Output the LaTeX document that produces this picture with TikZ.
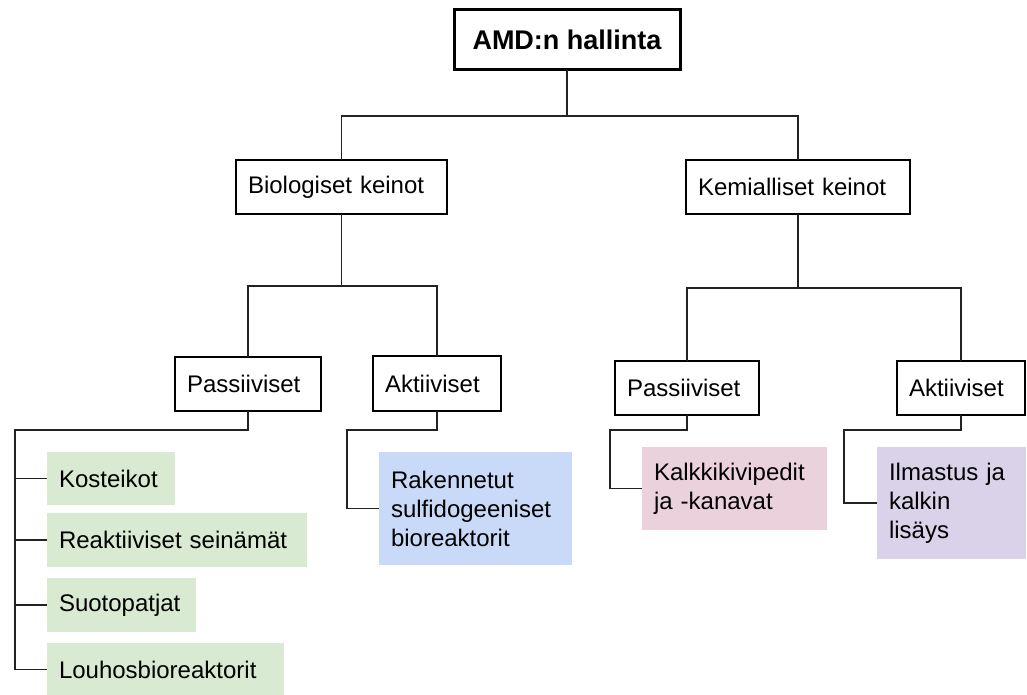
\documentclass[tikz,border=0pt]{standalone}
\usepackage{fontspec}
\setmainfont{Liberation Sans}
\definecolor{lgreen}{HTML}{D9EAD3}
\definecolor{lblue}{HTML}{C9DAF8}
\definecolor{lpink}{HTML}{EAD1DC}
\definecolor{lpurple}{HTML}{D9D2E9}
\definecolor{linec}{HTML}{222222}
\begin{document}
\begin{tikzpicture}[x=1pt,y=-1pt,
  every node/.style={font=\fontsize{24}{29}\selectfont},
  box/.style={draw=black, line width=1.3pt, fill=white, align=left, inner xsep=12pt, inner ysep=0pt, outer sep=0pt},
  leaf/.style={box, draw=none},
  conn/.style={draw=linec, line width=1.3pt},
]
\useasboundingbox (0,0) rectangle (1027,695);

% nodes
\node[box, line width=3pt, minimum width=226pt, minimum height=60pt, align=center,
      font=\fontsize{27}{32}\selectfont\bfseries] (root) at (567,40) {AMD:n hallinta};
\node[box, text width=187pt, minimum height=54pt] (bio) at (341.5,187) {Biologiset keinot};
\node[box, text width=200pt, minimum height=54pt] (kem) at (798,187) {Kemialliset keinot};
\node[box, text width=122pt, minimum height=54pt] (passL) at (248,384) {Passiiviset};
\node[box, text width=104pt, minimum height=55pt] (aktL) at (437,383.5) {Aktiiviset};
\node[box, text width=120pt, minimum height=54pt] (passR) at (687,388) {Passiiviset};
\node[box, text width=104pt, minimum height=54pt] (aktR) at (961,388) {Aktiiviset};

\node[leaf, fill=lgreen, text width=104pt, minimum height=53pt] (kost) at (111,478.5) {Kosteikot};
\node[leaf, fill=lgreen, text width=236pt, minimum height=54pt] (reak) at (177,540) {Reaktiiviset seinämät};
\node[leaf, fill=lgreen, text width=125pt, minimum height=54pt] (suot) at (121.5,605) {Suotopatjat};
\node[leaf, fill=lgreen, text width=213pt, minimum height=53pt] (louh) at (165.5,669.5) {Louhosbioreaktorit};
\node[leaf, fill=lblue, text width=169pt, minimum height=113pt] (blue) at (475.5,508.5) {Rakennetut\\sulfidogeeniset\\bioreaktorit};
\node[leaf, fill=lpink, text width=161pt, minimum height=83pt] (kalk) at (734.5,488.5) {Kalkkikivipedit\\ja -kanavat};
\node[leaf, fill=lpurple, text width=125pt, minimum height=112pt] (ilm) at (951.5,503) {Ilmastus ja\\kalkin\\lisäys};

% connectors
\draw[conn] (root.south) -- ++(0,46) coordinate (rsplit) -| (bio.north);
\draw[conn] (rsplit) -| (kem.north);

\draw[conn] (bio.south) -- ++(0,72) coordinate (bsplit) -| (passL.north);
\draw[conn] (bsplit) -| (aktL.north);

\draw[conn, line width=2pt] (kem.south) -- ++(0,74) coordinate (ksplit);
\draw[conn] (ksplit) -| (passR.north);
\draw[conn] (ksplit) -| (aktR.north);

\coordinate (tL) at (15,430);
\draw[conn] (passL.south) |- (tL) |- (louh.west);
\draw[conn] (tL |- kost.west) -- (kost.west);
\draw[conn] (tL |- reak.west) -- (reak.west);
\draw[conn] (tL |- suot.west) -- (suot.west);

\coordinate (tA) at (347,430);
\draw[conn] (aktL.south) |- (tA) |- (blue.west);

\coordinate (tP) at (610,430);
\draw[conn] (passR.south) |- (tP) |- (kalk.west);

\coordinate (tQ) at (844,430);
\draw[conn] (aktR.south) |- (tQ) |- (ilm.west);
\end{tikzpicture}
\end{document}
